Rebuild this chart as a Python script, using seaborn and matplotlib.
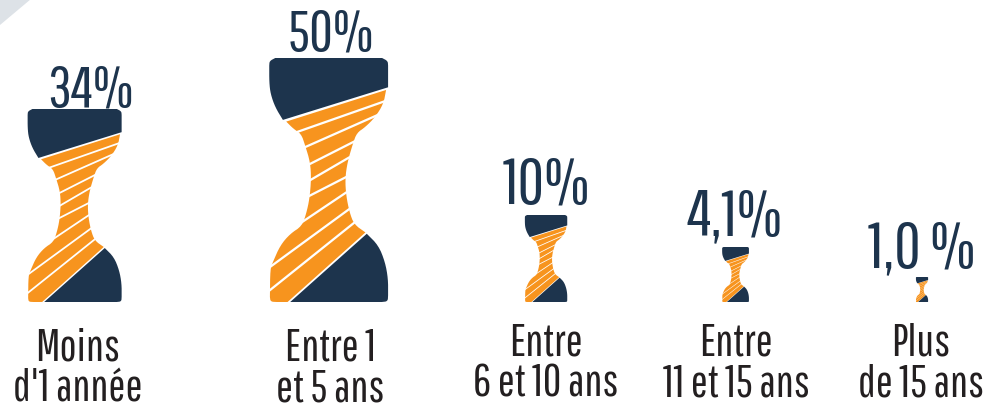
import matplotlib

matplotlib.use("Agg")
import matplotlib.pyplot as plt
import pandas as pd
import seaborn as sns
from matplotlib.path import Path

categories = ["Moins\nd'1 année", "Entre 1\net 5 ans", "Entre\n6 et 10 ans", "Entre\n11 et 15 ans", "Plus\nde 15 ans"]
shares = [34, 50, 10, 4.1, 1.0]
share_labels = ["34%", "50%", "10%", "4,1%", "1,0 %"]

# layout, in reference pixels
icon_x = [74.5, 328.5, 546, 735.5, 922]
icon_h = [193, 244, 87, 55, 25]
share_xy = [(90, 107), (331, 51), (546, 204), (735, 235), (922, 267)]
share_size = [42, 42, 47, 47, 47]
label_x = [78, 330, 546, 736, 921]
label_y = [369, 369, 364, 364, 364]
BASELINE = 303

NAVY = "#1d344d"
ORANGE = "#f7941e"
INK = "#231f20"
FONT = ["Pathway Gothic One", "Liberation Sans", "DejaVu Sans"]

# hourglass outline traced on the biggest icon (3x crop coordinates)
CAP_TOP_CORNER_L = [(807, 50), (808, 36), (825, 27)]
CAP_TOP_CORNER_R = [(1146, 27), (1163, 36), (1164, 50)]
CAP_LEFT = [(848, 213), (825, 175), (811, 135), (807, 100), (807, 50)]
BOTTOM_RIGHT = [(1100, 555), (1135, 590), (1155, 640), (1164, 690), (1164, 740)]
BOTTOM_CORNER = [(1164, 740), (1163, 758), (1145, 760)]
RIGHT_SIDE = [(1158, 123), (1150, 165), (1125, 205), (1095, 235), (1070, 252), (1058, 285), (1042, 340),
              (1035, 390), (1038, 440), (1048, 490), (1062, 527), (1096, 551)]
LEFT_SIDE = [(809, 745), (810, 660), (818, 640), (840, 590), (870, 555), (905, 532), (918, 495), (928, 450),
             (933, 390), (930, 340), (915, 290), (903, 255), (880, 240), (858, 218)]
STRIPES = [((880, 253), (1165, 153)), ((905, 299), (1140, 195)), ((920, 350), (1068, 275)), ((923, 398), (1050, 324)),
           ((920, 445), (1047, 380)), ((895, 527), (1050, 423)), ((805, 658), (1058, 473)), ((802, 730), (1072, 514))]
STRIPE_HALF = 3.4


def smooth(pts, rounds=2):
    # corner cutting, the end points stay where they are
    for _ in range(rounds):
        out = [pts[0]]
        for a, b in zip(pts[:-1], pts[1:]):
            out.append((0.75 * a[0] + 0.25 * b[0], 0.75 * a[1] + 0.25 * b[1]))
            out.append((0.25 * a[0] + 0.75 * b[0], 0.25 * a[1] + 0.75 * b[1]))
        out.append(pts[-1])
        pts = out
    return pts


TOP_CAP = smooth(CAP_TOP_CORNER_L) + smooth(CAP_TOP_CORNER_R) + [(1164, 115)] + smooth(CAP_LEFT)
BOTTOM_CAP = smooth(BOTTOM_RIGHT) + smooth(BOTTOM_CORNER) + [(870, 760)]
BODY = [(858, 218)] + smooth(RIGHT_SIDE) + [(862, 760), (830, 760)] + smooth([(830, 760), (811, 759), (809, 745)]) + smooth(LEFT_SIDE)


def to_unit(p):
    return ((p[0] - 985) / 733, (760 - p[1]) / 733)


def stripe_poly(a, b):
    dx, dy = b[0] - a[0], b[1] - a[1]
    n = (dx**2 + dy**2) ** 0.5
    ox, oy = -dy / n * STRIPE_HALF, dx / n * STRIPE_HALF
    return [(a[0] + ox, a[1] + oy), (b[0] + ox, b[1] + oy), (b[0] - ox, b[1] - oy), (a[0] - ox, a[1] - oy)]


def marker_path(polys):
    # the degenerate first piece keeps matplotlib's marker rescale the same on every layer
    verts = [(0, 1), (0, 1)]
    codes = [Path.MOVETO, Path.LINETO]
    for poly in polys:
        pts = [to_unit(p) for p in poly]
        verts += pts + [pts[0]]
        codes += [Path.MOVETO] + [Path.LINETO] * (len(pts) - 1) + [Path.CLOSEPOLY]
    return Path(verts, codes)


df = pd.DataFrame({"x": icon_x, "share": shares, "base": BASELINE})
# marker path is 1 high and scaled by 0.5 * sqrt(s) points
sizes = {s: (1.44 * h) ** 2 for s, h in zip(shares, icon_h)}

sns.set_theme(style="white")
fig = plt.figure(figsize=(9.98, 4.10), dpi=100)
ax = fig.add_axes([0, 0, 1, 1])

layers = [
    (marker_path([BODY]), ORANGE),
    (marker_path([stripe_poly(a, b) for a, b in STRIPES]), "white"),
    (marker_path([TOP_CAP, BOTTOM_CAP]), NAVY),
]
for path, color in layers:
    sns.scatterplot(data=df, x="x", y="base", size="share", sizes=sizes, marker=path, color=color,
                    linewidth=0, legend=False, ax=ax)

ax.fill([0, 31, 0], [0, 0, 26], color="#dde2e7", lw=0)

for (x, y), fs, txt in zip(share_xy, share_size, share_labels):
    ax.text(x, y, txt, ha="center", va="baseline", color=NAVY, fontsize=fs, family=FONT)
for x, y, txt in zip(label_x, label_y, categories):
    ax.text(x, y, txt, ha="center", va="center", color=INK, fontsize=32.5, family=FONT, linespacing=1.0)

ax.set_xlim(0, 998)
ax.set_ylim(410, 0)
ax.set_axis_off()
fig.savefig("out.png", dpi=100)
